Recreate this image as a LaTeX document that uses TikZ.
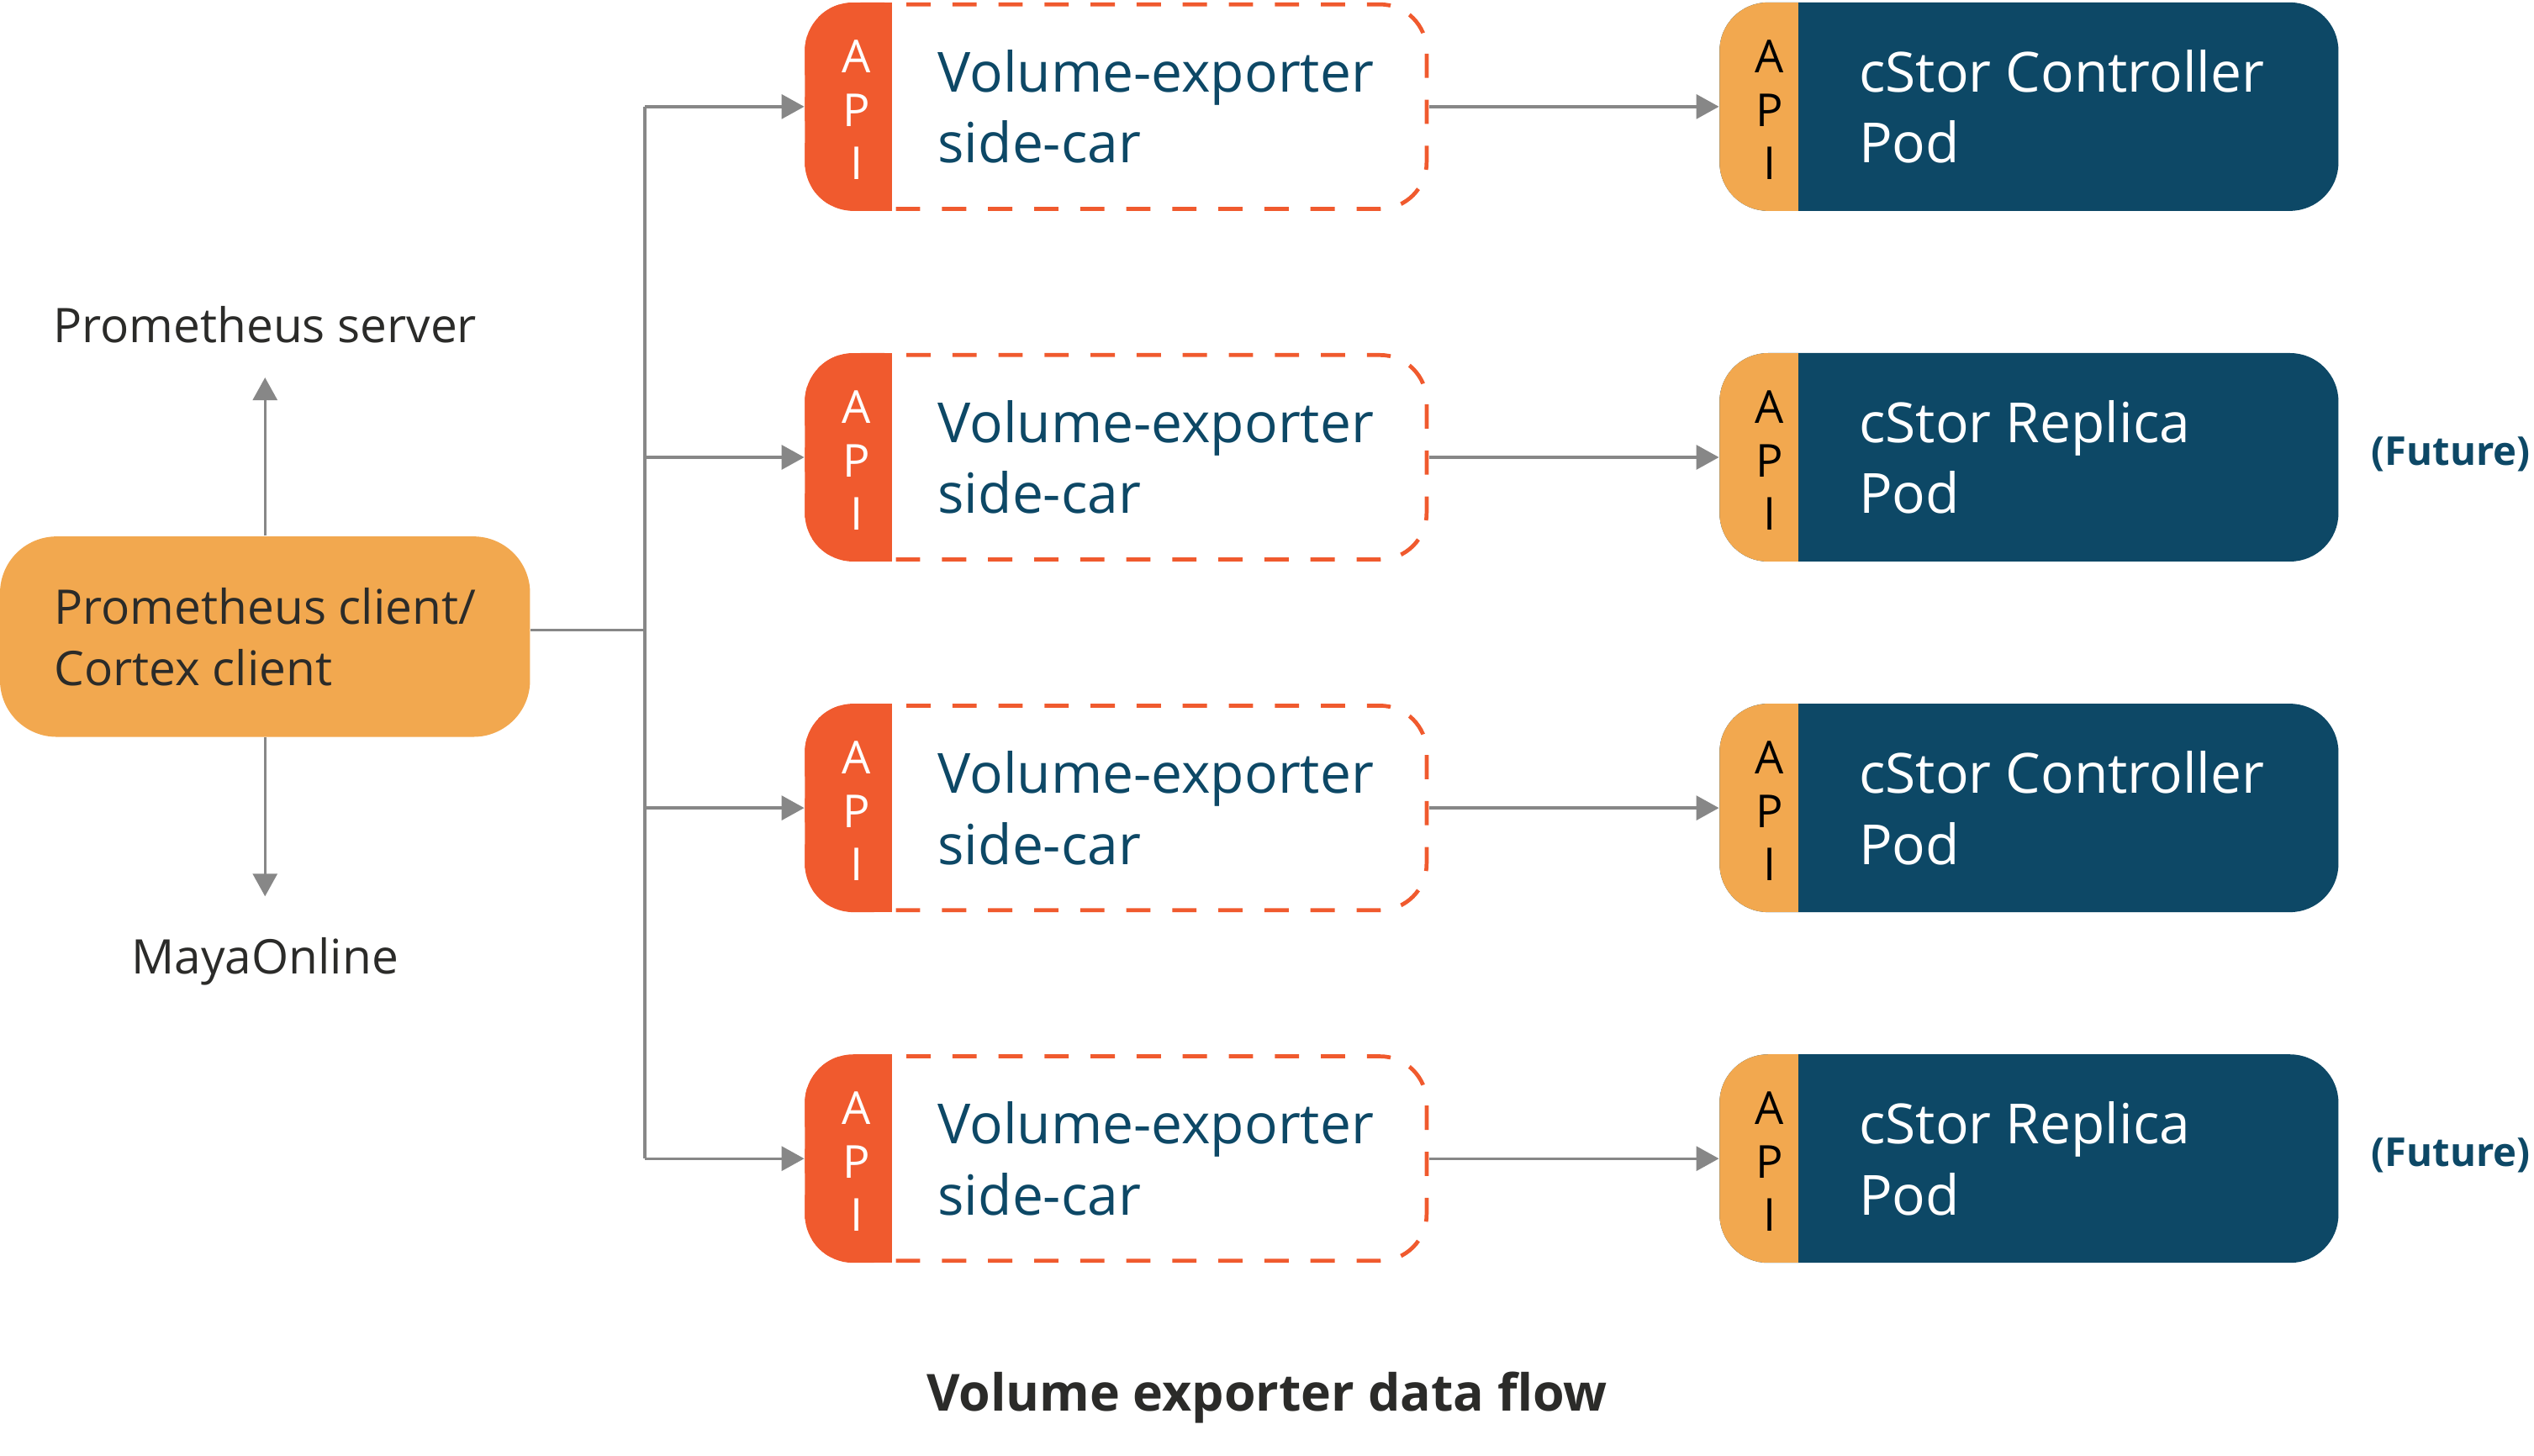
\documentclass[tikz,border=0pt]{standalone}
\usepackage{fontspec}
\setmainfont{Open Sans}
\usetikzlibrary{arrows.meta}
\definecolor{apiorange}{HTML}{F2A84F}
\definecolor{apired}{HTML}{F05A2E}
\definecolor{podblue}{HTML}{0D4866}
\definecolor{linegray}{HTML}{878787}
\definecolor{inkgray}{HTML}{2B2B29}

\begin{document}
\begin{tikzpicture}[
	link/.style={draw=linegray, line width=1pt},
	flow/.style={link, -{Triangle[length=0.28cm,width=0.3cm]}},
	client/.style={fill=apiorange, rounded corners=0.7cm, minimum width=6.56cm, minimum height=2.48cm, align=left, text=inkgray, font=\fontsize{16.8}{21.6}\selectfont},
	plain/.style={text=inkgray, font=\fontsize{16.8}{21.6}\selectfont},
	sidecar/.style={rounded corners=0.6cm, minimum width=7.72cm, minimum height=2.58cm,
		path picture={
			\fill[apired, sharp corners] (path picture bounding box.north west) rectangle ([xshift=1.08cm]path picture bounding box.south west);
			\draw[apired, dash pattern=on 0.3cm off 0.27cm, line width=2.8pt] (path picture bounding box.north west) rectangle (path picture bounding box.south east);
		}},
	pod/.style={fill=podblue, rounded corners=0.6cm, minimum width=7.66cm, minimum height=2.58cm,
		path picture={\fill[apiorange, sharp corners] (path picture bounding box.north west) rectangle ([xshift=0.98cm]path picture bounding box.south west);}},
	api/.style={align=center, inner sep=0pt, font=\fontsize{16}{18.8}\selectfont},
	sctext/.style={anchor=west, align=left, inner sep=0pt, text=podblue, font=\fontsize{19.5}{25}\selectfont},
	podtext/.style={sctext, text=white},
	future/.style={text=podblue, font=\fontsize{14}{17}\selectfont\bfseries},
	title/.style={text=inkgray, font=\fontsize{18}{22}\selectfont\bfseries}
]
	\useasboundingbox (0,0) rectangle (31.36,-18.02);

	% client and its two targets
	\node[client] (client) at (3.28,-7.88) {Prometheus client/\\Cortex client};
	\node[plain, anchor=base, inner ysep=0.42cm] (prom) at (3.28,-4.24) {Prometheus server};
	\node[plain, anchor=base, inner ysep=0.5cm] (maya) at (3.28,-12.05) {MayaOnline};
	\path[draw,flow] (client) -- (prom);
	\path[draw,flow] (client) -- (maya);

	% side-cars
	\node[sidecar] (sc1) at (13.82,-1.32) {};
	\node[sidecar] (sc2) at (13.82,-5.66) {};
	\node[sidecar] (sc3) at (13.82,-10.00) {};
	\node[sidecar] (sc4) at (13.82,-14.34) {};
	\node[api, text=white] (scapi1) at (10.60,-1.36) {A\\P\\I};
	\node[api, text=white] (scapi2) at (10.60,-5.70) {A\\P\\I};
	\node[api, text=white] (scapi3) at (10.60,-10.04) {A\\P\\I};
	\node[api, text=white] (scapi4) at (10.60,-14.38) {A\\P\\I};
	\node[sctext] (sct1) at (11.60,-1.32) {Volume-exporter\\side-car};
	\node[sctext] (sct2) at (11.60,-5.66) {Volume-exporter\\side-car};
	\node[sctext] (sct3) at (11.60,-10.00) {Volume-exporter\\side-car};
	\node[sctext] (sct4) at (11.60,-14.34) {Volume-exporter\\side-car};

	% cStor pods
	\node[pod] (pod1) at (25.11,-1.32) {};
	\node[pod] (pod2) at (25.11,-5.66) {};
	\node[pod] (pod3) at (25.11,-10.00) {};
	\node[pod] (pod4) at (25.11,-14.34) {};
	\node[api] (podapi1) at (21.90,-1.36) {A\\P\\I};
	\node[api] (podapi2) at (21.90,-5.70) {A\\P\\I};
	\node[api] (podapi3) at (21.90,-10.04) {A\\P\\I};
	\node[api] (podapi4) at (21.90,-14.38) {A\\P\\I};
	\node[podtext] (podt1) at (23.00,-1.32) {cStor Controller\\Pod};
	\node[podtext] (podt2) at (23.00,-5.66) {cStor Replica\\Pod};
	\node[podtext] (podt3) at (23.00,-10.00) {cStor Controller\\Pod};
	\node[podtext] (podt4) at (23.00,-14.34) {cStor Replica\\Pod};
	\node[future] (fut2) at (30.33,-5.62) {(Future)};
	\node[future] (fut4) at (30.33,-14.30) {(Future)};

	% bus
	\coordinate (bustop) at (7.98,-1.32);
	\coordinate (busbot) at (7.98,-14.34);
	\path[draw,link] (bustop) -- (busbot);
	\path[draw,link] ([yshift=0.08cm]client.east) -- ([yshift=0.08cm]client.east -| bustop);
	\path[draw,flow] (bustop) -- (sc1);
	\path[draw,flow] (sc2.west -| bustop) -- (sc2);
	\path[draw,flow] (sc3.west -| bustop) -- (sc3);
	\path[draw,flow] (busbot) -- (sc4);

	\path[draw,flow] (sc1) -- (pod1);
	\path[draw,flow] (sc2) -- (pod2);
	\path[draw,flow] (sc3) -- (pod3);
	\path[draw,flow] (sc4) -- (pod4);

	\node[title] (title) at (15.68,-17.30) {Volume exporter data flow};
\end{tikzpicture}
\end{document}
